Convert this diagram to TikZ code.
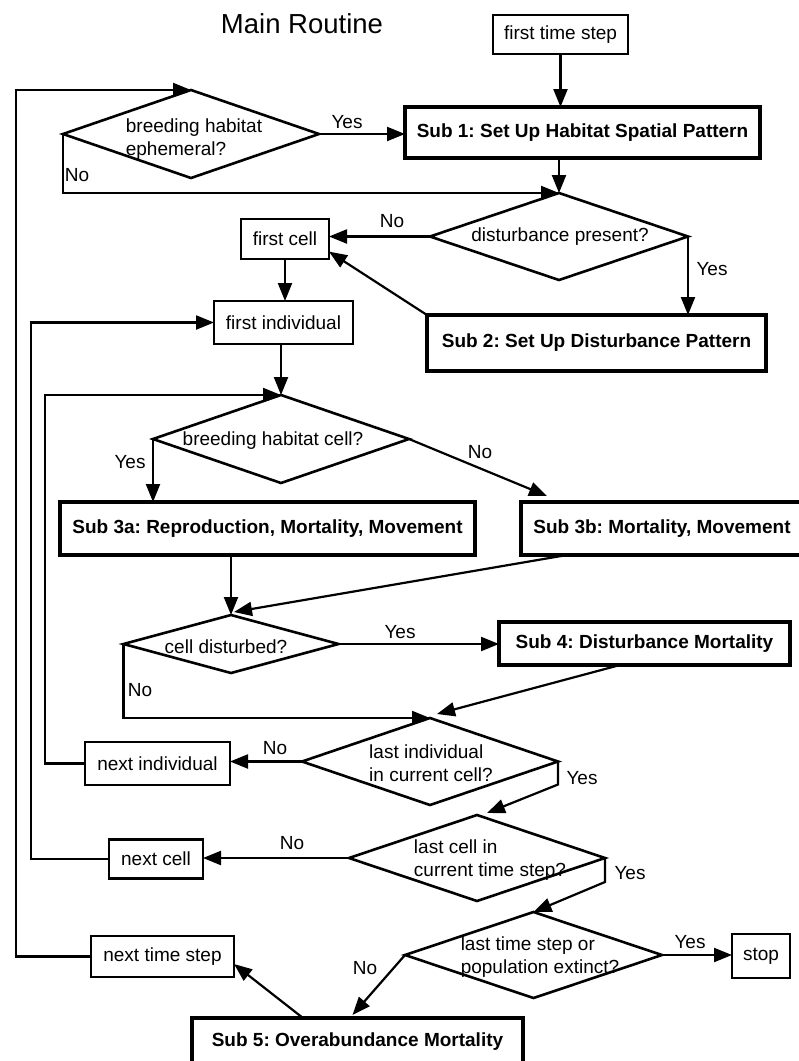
\documentclass[tikz,border=0pt]{standalone}
\usepackage{fontspec}
\setmainfont{Liberation Sans}
\usetikzlibrary{shapes.geometric,arrows.meta,calc}
\frenchspacing

\begin{document}
\begin{tikzpicture}[x=1pt,y=-1pt,
  every node/.style={font=\fontsize{19}{23}\selectfont, inner sep=0pt, outer sep=0pt},
  box/.style={draw, line width=2.2pt, rectangle},
  subbox/.style={draw, line width=3.4pt, rectangle, font=\fontsize{19}{23}\selectfont\bfseries},
  decision/.style={draw, line width=2.6pt, diamond},
  dtext/.style={align=left},
  conn/.style={line width=2.2pt, -{Triangle[length=18pt,width=14pt]}},
]
\useasboundingbox (0,0) rectangle (799,1061);
\clip (0,0) rectangle (799,1061);

% title
\node (title) at (302,24) {\fontsize{27.5}{30}\selectfont Main Routine};

% process boxes
\node[box] (fts) at (560.5,34.5) [minimum width=135pt, minimum height=39pt] {first time step};
\node[subbox] (sub1) at (582.5,132.5) [minimum width=355pt, minimum height=51pt] {Sub 1: Set Up Habitat Spatial Pattern};
\node[box] (fc) at (285,239) [minimum width=88pt, minimum height=40pt] {first cell};
\node[subbox] (sub2) at (596.5,343) [minimum width=339pt, minimum height=56pt] {Sub 2: Set Up Disturbance Pattern};
\node[box] (fi) at (283.5,322.5) [minimum width=139pt, minimum height=43pt] {first individual};
\node[subbox] (sub3a) at (267.5,528.5) [minimum width=415pt, minimum height=53pt] {Sub 3a: Reproduction, Mortality, Movement};
\node[subbox] (sub3b) at (662,528.5) [minimum width=282pt, minimum height=53pt] {Sub 3b: Mortality, Movement};
\node[subbox] (sub4) at (644.5,643.5) [minimum width=291pt, minimum height=43pt] {Sub 4: Disturbance Mortality};
\node[box] (ni) at (157.5,763.5) [minimum width=145pt, minimum height=43pt] {next individual};
\node[box] (nc) at (156,859) [minimum width=94pt, minimum height=39pt] {next cell};
\node[box] (stop) at (761,956) [minimum width=58pt, minimum height=44pt] {stop};
\node[box] (nts) at (162.5,956.5) [minimum width=143pt, minimum height=41pt] {next time step};
\node[subbox] (sub5) at (357.5,1042) [minimum width=331pt, minimum height=48pt] {Sub 5: Overabundance Mortality};

% decisions
\node[decision] (d1) at (191,134) [minimum width=256pt, minimum height=88pt] {};
\node[dtext] (d1t) at (194,139) {breeding habitat\\ephemeral?};
\node[decision] (d2) at (559,236.5) [minimum width=258pt, minimum height=87pt] {};
\node (d2t) at (560,237) {disturbance present?};
\node[decision] (d3) at (281,439) [minimum width=256pt, minimum height=88pt] {};
\node (d3t) at (273,441) {breeding habitat cell?};
\node[decision] (d4) at (231,644) [minimum width=215pt, minimum height=58pt] {};
\node (d4t) at (226,647) {cell disturbed?};
\node[decision] (d5) at (430,761.5) [minimum width=256pt, minimum height=87pt] {};
\node[dtext] (d5t) at (431,763) {last individual\\in current cell?};
\node[decision] (d6) at (477,858) [minimum width=256pt, minimum height=86pt] {};
\node[dtext] (d6t) at (490,860) {last cell in\\current time step?};
\node[decision] (d7) at (533.5,955) [minimum width=257pt, minimum height=86pt] {};
\node[dtext] (d7t) at (540,957) {last time step or\\population extinct?};

% branch labels
\node (y1) at (347,122) {Yes};
\node (n1) at (77,175) {No};
\node (n2) at (392,221) {No};
\node (y2) at (712,269) {Yes};
\node (y3) at (130,462) {Yes};
\node (n3) at (480,452) {No};
\node (y4) at (400,632) {Yes};
\node (n4) at (140,690) {No};
\node (n5) at (275,748) {No};
\node (y5) at (582,778) {Yes};
\node (n6) at (292,843) {No};
\node (y6) at (630,873) {Yes};
\node (y7) at (690,942) {Yes};
\node (n7) at (365,968) {No};

% connectors
\draw[conn] (fts.south) -- (fts.south |- sub1.north);
\draw[conn] (d1.east) -- (d1.east -| sub1.west);
\draw[conn] (d1.west) |- (d2.north);
\draw[conn] (sub1.south -| d2.north) -- (d2.north);
\draw[conn] (d2.west) -- (d2.west -| fc.east);
\draw[conn] (d2.east) -- (d2.east |- sub2.north);
\draw[conn] (sub2.north west) -- (fc.-16);
\draw[conn] (fc.south) -- (fc.south |- fi.north);
\draw[conn] (fi.south -| d3.north) -- (d3.north);
\draw[conn] (d3.west) -- (d3.west |- sub3a.north);
\draw[conn] (d3.east) -- ($(sub3b.north west)+(26,-6)$);
\draw[conn] (sub3a.south -| d4.north) -- (d4.north);
\draw[conn] ($(sub3b.south west)+(46,0)$) -- ($(d4.north)+(3,-3)$);
\draw[conn] (d4.east) -- (d4.east -| sub4.west);
\draw[conn] (d4.west) |- (d5.north);
\draw[conn] ($(sub4.south west)+(121,0)$) -- ($(d5.north)+(7,-4)$);
\draw[conn] (d5.west) -- (d5.west -| ni.east);
\draw[conn] (d5.east) -- ++(0,23) -- ($(d6.north)+(10,-2)$);
\draw[conn] (d6.west) -- (d6.west -| nc.east);
\draw[conn] (d6.east) -- ++(0,24) -- (d7.north);
\draw[conn] (d7.east) -- (d7.east -| stop.west);
\draw[conn] (d7.west) -- ($(sub5.north)+(-5,-3)$);
\draw[conn] ($(sub5.north west)+(111,0)$) -- (nts.-6);
\draw[conn] (nts.west) -- ++(-75,0) |- (d1.north);
\draw[conn] (nc.west) -- ++(-78,0) |- (fi.west);
\draw[conn] (ni.west) -- ++(-40,0) |- (d3.north);
\end{tikzpicture}
\end{document}
